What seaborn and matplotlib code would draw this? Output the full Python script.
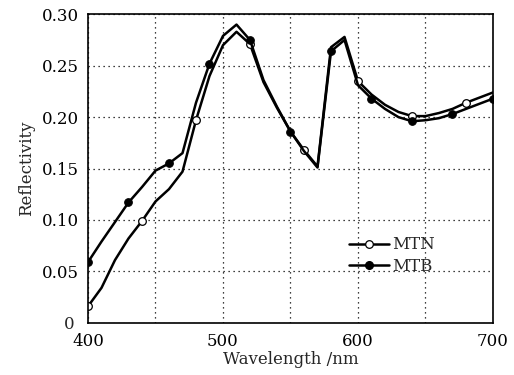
import matplotlib
matplotlib.use("Agg")
import matplotlib.pyplot as plt
from matplotlib.ticker import MultipleLocator, FuncFormatter
from matplotlib.lines import Line2D
import seaborn as sns
import pandas as pd

wavelength = [400, 410, 420, 430, 440, 450, 460, 470, 480, 490, 500, 510, 520,
              530, 540, 550, 560, 570, 580, 590, 600, 610, 620, 630, 640, 650,
              660, 670, 680, 690, 700]
mtn = [0.016, 0.034, 0.061, 0.082, 0.099, 0.118, 0.130, 0.147, 0.197, 0.240,
       0.270, 0.283, 0.271, 0.234, 0.209, 0.186, 0.168, 0.152, 0.268, 0.278,
       0.235, 0.222, 0.212, 0.205, 0.201, 0.201, 0.204, 0.208, 0.214, 0.219,
       0.224]
mtb = [0.059, 0.079, 0.098, 0.117, 0.132, 0.148, 0.155, 0.165, 0.214, 0.252,
       0.279, 0.290, 0.275, 0.236, 0.210, 0.186, 0.167, 0.151, 0.264, 0.275,
       0.231, 0.218, 0.208, 0.200, 0.196, 0.197, 0.199, 0.203, 0.208, 0.213,
       0.218]
mtn_marker_idx = [0, 4, 8, 12, 16, 20, 24, 28]
mtb_marker_idx = [0, 3, 6, 9, 12, 15, 18, 21, 24, 27, 30]
series_names = ["MTN", "MTB"]

df = pd.DataFrame({
    "Wavelength": wavelength * 2,
    "Reflectivity": mtn + mtb,
    "Series": [series_names[0]] * len(mtn) + [series_names[1]] * len(mtb),
})

sns.set_style("white")
plt.rcParams["font.family"] = ["DejaVu Serif"]
plt.rcParams["mathtext.fontset"] = "dejavuserif"

fig = plt.figure(figsize=(5.14, 3.75), dpi=100)
ax = fig.add_axes([88 / 514, (375 - 322.8) / 375, (493 - 88) / 514, (322.8 - 14.3) / 375])

ax.grid(True, color="black", linestyle=(0, (1, 3)), linewidth=0.9)
ax.set_axisbelow(True)

sns.lineplot(data=df, x="Wavelength", y="Reflectivity", hue="Series",
             palette=["black", "black"], linewidth=1.8, legend=False, ax=ax,
             sort=False)

lines = ax.get_lines()
mtn_line = lines[0]
mtb_line = lines[1]
mtn_line.set_marker("o")
mtn_line.set_markevery(mtn_marker_idx)
mtn_line.set_markersize(5.5)
mtn_line.set_markerfacecolor("white")
mtn_line.set_markeredgecolor("black")
mtn_line.set_markeredgewidth(0.9)
mtb_line.set_marker("o")
mtb_line.set_markevery(mtb_marker_idx)
mtb_line.set_markersize(5.5)
mtb_line.set_markerfacecolor("black")
mtb_line.set_markeredgecolor("black")

ax.set_xlim(400, 700)
ax.set_ylim(0, 0.30)

ax.xaxis.set_major_locator(MultipleLocator(50))
ax.xaxis.set_minor_locator(MultipleLocator(25))
ax.yaxis.set_major_locator(MultipleLocator(0.05))
ax.yaxis.set_minor_locator(MultipleLocator(0.025))

ax.xaxis.set_major_formatter(FuncFormatter(lambda v, p: f"{int(round(v))}" if int(round(v)) % 100 == 0 else ""))
ax.yaxis.set_major_formatter(FuncFormatter(lambda v, p: "" if abs(v) < 1e-9 else f"{v:.2f}"))

ax.tick_params(axis="both", which="both", direction="in", length=4, width=1,
               top=False, right=False, labelsize=12, colors="black")
ax.tick_params(axis="y", pad=6.5)
ax.tick_params(axis="x", pad=7)

ax.annotate("0", xy=(0, 0), xycoords=("axes fraction", "data"),
            xytext=(-10, -1.5), textcoords="offset points", ha="right", va="center",
            fontsize=12)

for s in ax.spines.values():
    s.set_color("black")
    s.set_linewidth(1.2)

ax.set_xlabel("Wavelength /nm", fontsize=12, labelpad=1)
ax.set_ylabel("Reflectivity", fontsize=12, labelpad=5)

h1 = Line2D([], [], color="black", linewidth=1.8, marker="o", markersize=5.5,
            markerfacecolor="white", markeredgecolor="black", markeredgewidth=0.9)
h2 = Line2D([], [], color="black", linewidth=1.8, marker="o", markersize=5.5,
            markerfacecolor="black", markeredgecolor="black")
leg = ax.legend([h1, h2], series_names, loc="center left",
                bbox_to_anchor=(0.644, 0.218), frameon=False, fontsize=12,
                borderaxespad=0, borderpad=0, handlelength=2.4,
                handletextpad=0.2, labelspacing=0.25)

fig.savefig("out.png", dpi=100)
